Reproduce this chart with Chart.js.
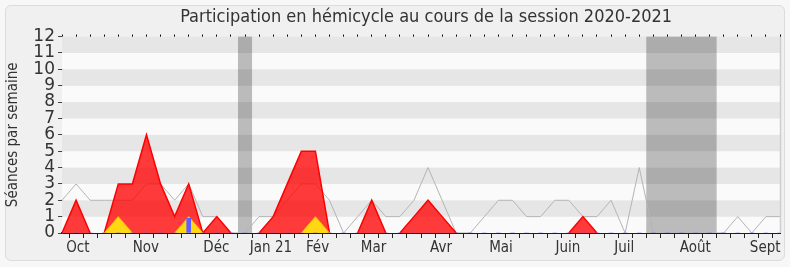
<!DOCTYPE html>
<html>
<head>
<meta charset="utf-8">
<script src="https://cdn.jsdelivr.net/npm/chart.js@4.4.0/dist/chart.umd.min.js"></script>
<style>
body { margin: 0; background: #f7f7f7; }
#box { position: absolute; left: 5px; top: 5px; width: 778px; height: 254px; background: #f0f0f0; border: 1px solid #dcdcdc; border-radius: 6px; }
#myChart { position: absolute; left: 0; top: 0; }
</style>
</head>
<body>
<div id="box"></div>
<canvas id="myChart" width="790" height="267"></canvas>
<script>
// one point per week (monday)
var weeks = ['2020-09-28','2020-10-05','2020-10-12','2020-10-19','2020-10-26',
  '2020-11-02','2020-11-09','2020-11-16','2020-11-23','2020-11-30',
  '2020-12-07','2020-12-14','2020-12-21','2020-12-28',
  '2021-01-04','2021-01-11','2021-01-18','2021-01-25',
  '2021-02-01','2021-02-08','2021-02-15','2021-02-22',
  '2021-03-01','2021-03-08','2021-03-15','2021-03-22','2021-03-29',
  '2021-04-05','2021-04-12','2021-04-19','2021-04-26',
  '2021-05-03','2021-05-10','2021-05-17','2021-05-24','2021-05-31',
  '2021-06-07','2021-06-14','2021-06-21','2021-06-28',
  '2021-07-05','2021-07-12','2021-07-19','2021-07-26',
  '2021-08-02','2021-08-09','2021-08-16','2021-08-23','2021-08-30',
  '2021-09-06','2021-09-13','2021-09-20'];

var allDeputies = [2,3,2,2,2,2,3,3,2,3, 1,1,0,0,1,1,2,3,3,2, 0,1,2,1,1,2,4,2,0,0,
  1,2,2,1,1,2,2,1,1,2, 0,4,0,0,0,0,0,0,1,0, 1,1];
var presence = [0,2,0,0,3,3,6,3,1,3, 0,1,0,0,0,1,3,5,5,0, 0,0,2,0,0,1,2,1,0,0,
  0,0,0,0,0,0,0,1,0,0, 0,0,0,0,0,0,0,0,0,0, 0,0];
var interventions = [0,0,0,0,1,0,0,0,0,1, 0,0,0,0,0,0,0,0,1,0, 0,0,0,0,0,0,0,0,0,0,
  0,0,0,0,0,0,0,0,0,0, 0,0,0,0,0,0,0,0,0,0, 0,0];
var questions = [0,0,0,0,0,0,0,0,0,0.9, 0,0,0,0,0,0,0,0,0,0, 0,0,0,0,0,0,0,0,0,0,
  0,0,0,0,0,0,0,0,0,0, 0,0,0,0,0,0,0,0,0,0, 0,0];

// month labels, placed in week units
var monthLabels = ['Oct','Nov','Déc','Jan 21','Fév','Mar','Avr','Mai','Juin','Juil','Août','Sept'];
var monthPos = [1.13, 5.96, 10.96, 14.84, 18.15, 22.13, 26.92, 31.18, 35.94, 39.94, 44.98, 49.95];
// parliamentary breaks, in week units
var vacations = [[12.5, 13.5], [41.5, 46.5]];

var FONT = '"DejaVu Sans Condensed", "DejaVu Sans", sans-serif';

// hide the stroke where a filled series lies flat on zero
function flatZero(c) {
    return (c.p0.parsed.y === 0 && c.p1.parsed.y === 0) ? 'rgba(0,0,0,0)' : undefined;
}

var backdrop = {
  id: 'backdrop',
  beforeDatasetsDraw: function(chart) {
    var a = chart.chartArea, y = chart.scales.y, x2 = chart.scales.x2, c = chart.ctx;
    c.save();
    for (var v = 0; v < 12; v++) {
      c.fillStyle = v % 2 ? '#e6e6e6' : '#fafafa';
      var t = y.getPixelForValue(v + 1), b = y.getPixelForValue(v);
      c.fillRect(a.left, t, a.right - a.left, b - t);
    }
    c.fillStyle = 'rgba(0,0,0,0.25)';
    vacations.forEach(function(r) {
      var l = x2.getPixelForValue(r[0]), rr = x2.getPixelForValue(r[1]);
      c.fillRect(l, a.top, rr - l, a.bottom - a.top);
    });
    c.restore();
  },
  afterDraw: function(chart) {
    var a = chart.chartArea, c = chart.ctx;
    c.save();
    c.strokeStyle = '#cfcfcf';
    c.lineWidth = 1.5;
    c.beginPath();
    c.moveTo(a.right + 0.5, a.top);
    c.lineTo(a.right + 0.5, a.bottom);
    c.stroke();
    c.restore();
  }
};

var ctx = document.getElementById('myChart').getContext('2d');
var myChart = new Chart(ctx, {
    type: 'line',
    data: {
        labels: weeks,
        datasets: [{
            type: 'bar',
            label: 'Questions',
            data: questions,
            backgroundColor: '#6060ff',
            barThickness: 4,
            xAxisID: 'x', yAxisID: 'y',
            order: 0
        }, {
            label: 'Interventions',
            data: interventions,
            borderColor: '#f0c000',
            borderWidth: 1,
            backgroundColor: '#ffd712',
            fill: 'origin',
            pointRadius: 0,
            segment: { borderColor: flatZero },
            xAxisID: 'x', yAxisID: 'y',
            order: 1
        }, {
            label: 'Présence',
            data: presence,
            borderColor: '#ff0000',
            borderWidth: 1.5,
            backgroundColor: 'rgba(255,0,0,0.77)',
            fill: 'origin',
            pointRadius: 0,
            segment: { borderColor: flatZero },
            xAxisID: 'x', yAxisID: 'y',
            order: 2
        }, {
            label: 'Médiane des députés',
            data: allDeputies,
            borderColor: '#b4b4b4',
            borderWidth: 1,
            fill: false,
            pointRadius: 0,
            xAxisID: 'x', yAxisID: 'y',
            order: 3
        }]
    },
    options: {
        responsive: false,
        animation: false,
        events: [],
        layout: { padding: { left: 0, right: 10, top: 0, bottom: 0 } },
        plugins: {
            legend: { display: false },
            tooltip: { enabled: false },
            title: {
                display: true,
                fullSize: false,
                text: '\u00a0\u00a0Participation en hémicycle au cours de la session 2020-2021',
                color: '#333',
                font: { family: FONT, size: 18, weight: 'normal' },
                padding: { top: 7, bottom: 4 }
            }
        },
        scales: {
            x: {
                type: 'category',
                position: 'bottom',
                offset: false,
                weight: 0,
                z: 1,
                grid: { drawOnChartArea: false, tickLength: 5, tickColor: '#222' },
                border: { color: '#4a0a0a', width: 2 },
                ticks: { display: false },
                afterFit: function(s) { s.height = 6; }
            },
            x2: {
                type: 'linear',
                position: 'bottom',
                min: 0,
                max: 51,
                weight: 1,
                grid: { display: false, drawTicks: false },
                border: { display: false },
                afterBuildTicks: function(s) { s.ticks = monthPos.map(function(v) { return { value: v }; }); },
                ticks: {
                    autoSkip: false, maxRotation: 0, padding: 0,
                    color: '#333', font: { family: FONT, size: 15 },
                    callback: function(v, i) { return monthLabels[i]; }
                },
                afterFit: function(s) { s.height = 28; }
            },
            xTop: {
                type: 'category',
                position: 'top',
                offset: false,
                grid: { drawOnChartArea: false, tickLength: 2, tickColor: '#000' },
                border: { display: false },
                ticks: { display: false },
                afterFit: function(s) { s.height = 4; }
            },
            y: {
                min: 0,
                max: 12,
                position: 'left',
                z: 1,
                afterBuildTicks: function(s) {
                    var t = [];
                    for (var v = 0; v <= 12; v++) t.push({ value: v });
                    s.ticks = t;
                },
                grid: { drawOnChartArea: false, tickLength: 4, tickColor: '#444' },
                border: { color: '#444', width: 1 },
                ticks: { autoSkip: false, color: '#333', padding: 3, font: { family: '"DejaVu Sans", sans-serif', size: 17 } },
                title: {
                    display: true,
                    text: 'Séances par semaine',
                    color: '#333',
                    font: { family: FONT, size: 15 },
                    padding: { top: 4, bottom: 0 }
                },
                afterFit: function(s) { s.width = 62; }
            }
        }
    },
    plugins: [backdrop]
});
</script>
</body>
</html>
